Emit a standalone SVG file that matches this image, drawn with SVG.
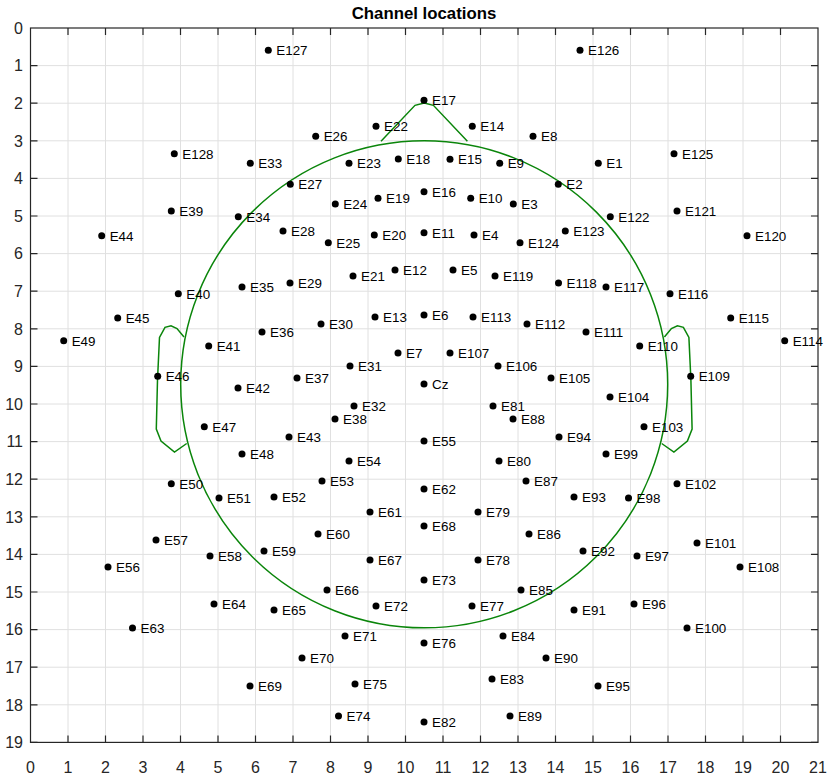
<svg xmlns="http://www.w3.org/2000/svg" width="829" height="777" viewBox="0 0 829 777">
<style>
.grid{stroke:#e0e0e0;stroke-width:1;fill:none}
.axis{stroke:#262626;stroke-width:1.2;fill:none}
.tick{stroke:#262626;stroke-width:1.2}
.tl{font-family:"Liberation Sans",Arial,sans-serif;font-size:16px;fill:#262626}
.title{font-family:"Liberation Sans",Arial,sans-serif;font-size:16.8px;font-weight:bold;fill:#000;text-anchor:middle}
.head{stroke:#0a850a;stroke-width:1.5;fill:none}
.dot{fill:#000}
.lbl{font-family:"Liberation Sans",Arial,sans-serif;font-size:13.4px;fill:#000}
</style>
<rect width="829" height="777" fill="#fff"/>
<text class="title" x="424" y="19">Channel locations</text>
<g id="grid">
<path class="grid" d="M68,28V742.4M105.5,28V742.4M143,28V742.4M180.5,28V742.4M218,28V742.4M255.5,28V742.4M293,28V742.4M330.5,28V742.4M368,28V742.4M405.5,28V742.4M443,28V742.4M480.5,28V742.4M518,28V742.4M555.5,28V742.4M593,28V742.4M630.5,28V742.4M668,28V742.4M705.5,28V742.4M743,28V742.4M780.5,28V742.4"/>
<path class="grid" d="M30.5,65.6H818M30.5,103.2H818M30.5,140.8H818M30.5,178.4H818M30.5,216H818M30.5,253.6H818M30.5,291.2H818M30.5,328.8H818M30.5,366.4H818M30.5,404H818M30.5,441.6H818M30.5,479.2H818M30.5,516.8H818M30.5,554.4H818M30.5,592H818M30.5,629.6H818M30.5,667.2H818M30.5,704.8H818"/>
</g>
<g id="axes">
<rect class="axis" x="30.5" y="28" width="787.5" height="714.4"/>
<path class="tick" d="M68,28v7M105.5,28v7M143,28v7M180.5,28v7M218,28v7M255.5,28v7M293,28v7M330.5,28v7M368,28v7M405.5,28v7M443,28v7M480.5,28v7M518,28v7M555.5,28v7M593,28v7M630.5,28v7M668,28v7M705.5,28v7M743,28v7M780.5,28v7"/>
<path class="tick" d="M68,742.4v-7M105.5,742.4v-7M143,742.4v-7M180.5,742.4v-7M218,742.4v-7M255.5,742.4v-7M293,742.4v-7M330.5,742.4v-7M368,742.4v-7M405.5,742.4v-7M443,742.4v-7M480.5,742.4v-7M518,742.4v-7M555.5,742.4v-7M593,742.4v-7M630.5,742.4v-7M668,742.4v-7M705.5,742.4v-7M743,742.4v-7M780.5,742.4v-7"/>
<path class="tick" d="M30.5,65.6h7M30.5,103.2h7M30.5,140.8h7M30.5,178.4h7M30.5,216h7M30.5,253.6h7M30.5,291.2h7M30.5,328.8h7M30.5,366.4h7M30.5,404h7M30.5,441.6h7M30.5,479.2h7M30.5,516.8h7M30.5,554.4h7M30.5,592h7M30.5,629.6h7M30.5,667.2h7M30.5,704.8h7M30.5,742.4h7"/>
<path class="tick" d="M818,65.6h-7M818,103.2h-7M818,140.8h-7M818,178.4h-7M818,216h-7M818,253.6h-7M818,291.2h-7M818,328.8h-7M818,366.4h-7M818,404h-7M818,441.6h-7M818,479.2h-7M818,516.8h-7M818,554.4h-7M818,592h-7M818,629.6h-7M818,667.2h-7M818,704.8h-7M818,742.4h-7"/>
<g class="tl" text-anchor="middle">
<text x="30.5" y="773">0</text><text x="68" y="773">1</text><text x="105.5" y="773">2</text><text x="143" y="773">3</text><text x="180.5" y="773">4</text><text x="218" y="773">5</text><text x="255.5" y="773">6</text><text x="293" y="773">7</text><text x="330.5" y="773">8</text><text x="368" y="773">9</text><text x="405.5" y="773">10</text><text x="443" y="773">11</text><text x="480.5" y="773">12</text><text x="518" y="773">13</text><text x="555.5" y="773">14</text><text x="593" y="773">15</text><text x="630.5" y="773">16</text><text x="668" y="773">17</text><text x="705.5" y="773">18</text><text x="743" y="773">19</text><text x="780.5" y="773">20</text><text x="818" y="773">21</text>
</g>
<g class="tl" text-anchor="end">
<text x="23" y="33.8">0</text><text x="23" y="71.4">1</text><text x="23" y="109">2</text><text x="23" y="146.6">3</text><text x="23" y="184.2">4</text><text x="23" y="221.8">5</text><text x="23" y="259.4">6</text><text x="23" y="297">7</text><text x="23" y="334.6">8</text><text x="23" y="372.2">9</text><text x="23" y="409.8">10</text><text x="23" y="447.4">11</text><text x="23" y="485">12</text><text x="23" y="522.6">13</text><text x="23" y="560.2">14</text><text x="23" y="597.8">15</text><text x="23" y="635.4">16</text><text x="23" y="673">17</text><text x="23" y="710.6">18</text><text x="23" y="748.2">19</text>
</g>
</g>
<g id="head">
<circle class="head" cx="424.2" cy="384.3" r="243.5"/>
<polyline class="head" points="381,141.3 415,105.3 424.2,103 433.4,105.3 467.4,141.3"/>
<polyline class="head" points="184,337 177,328.5 171,325.8 165,327.3 159.5,337.5 157.5,380 156.3,429 161,441 174.5,452 186.7,443.5"/>
<polyline class="head" points="664.4,337 671.4,328.5 677.4,325.8 683.4,327.3 688.9,337.5 690.9,380 692.1,429 687.4,441 673.9,452 661.7,443.5"/>
</g>
<g id="electrodes">
<g id="E1"><circle class="dot" cx="598.3" cy="163.3" r="3.5"/><text class="lbl" x="606.3" y="168.3">E1</text></g>
<g id="E2"><circle class="dot" cx="558.3" cy="184.3" r="3.5"/><text class="lbl" x="566.3" y="189.3">E2</text></g>
<g id="E3"><circle class="dot" cx="513.3" cy="204" r="3.5"/><text class="lbl" x="521.3" y="209">E3</text></g>
<g id="E4"><circle class="dot" cx="474" cy="235" r="3.5"/><text class="lbl" x="482" y="240">E4</text></g>
<g id="E5"><circle class="dot" cx="453" cy="270" r="3.5"/><text class="lbl" x="461" y="275">E5</text></g>
<g id="E6"><circle class="dot" cx="424" cy="315" r="3.5"/><text class="lbl" x="432" y="320">E6</text></g>
<g id="E7"><circle class="dot" cx="398" cy="353" r="3.5"/><text class="lbl" x="406" y="358">E7</text></g>
<g id="E8"><circle class="dot" cx="533" cy="136.3" r="3.5"/><text class="lbl" x="541" y="141.3">E8</text></g>
<g id="E9"><circle class="dot" cx="499.7" cy="163.3" r="3.5"/><text class="lbl" x="507.7" y="168.3">E9</text></g>
<g id="E10"><circle class="dot" cx="470.7" cy="198.3" r="3.5"/><text class="lbl" x="478.7" y="203.3">E10</text></g>
<g id="E11"><circle class="dot" cx="424" cy="232.7" r="3.5"/><text class="lbl" x="432" y="237.7">E11</text></g>
<g id="E12"><circle class="dot" cx="395" cy="270" r="3.5"/><text class="lbl" x="403" y="275">E12</text></g>
<g id="E13"><circle class="dot" cx="375" cy="317" r="3.5"/><text class="lbl" x="383" y="322">E13</text></g>
<g id="E14"><circle class="dot" cx="472.3" cy="126.3" r="3.5"/><text class="lbl" x="480.3" y="131.3">E14</text></g>
<g id="E15"><circle class="dot" cx="450" cy="159.3" r="3.5"/><text class="lbl" x="458" y="164.3">E15</text></g>
<g id="E16"><circle class="dot" cx="424" cy="191.7" r="3.5"/><text class="lbl" x="432" y="196.7">E16</text></g>
<g id="E17"><circle class="dot" cx="424" cy="100.3" r="3.5"/><text class="lbl" x="432" y="105.3">E17</text></g>
<g id="E18"><circle class="dot" cx="398.3" cy="159" r="3.5"/><text class="lbl" x="406.3" y="164">E18</text></g>
<g id="E19"><circle class="dot" cx="378" cy="198.3" r="3.5"/><text class="lbl" x="386" y="203.3">E19</text></g>
<g id="E20"><circle class="dot" cx="374.3" cy="235" r="3.5"/><text class="lbl" x="382.3" y="240">E20</text></g>
<g id="E21"><circle class="dot" cx="353" cy="276" r="3.5"/><text class="lbl" x="361" y="281">E21</text></g>
<g id="E22"><circle class="dot" cx="376" cy="126.3" r="3.5"/><text class="lbl" x="384" y="131.3">E22</text></g>
<g id="E23"><circle class="dot" cx="349" cy="163.3" r="3.5"/><text class="lbl" x="357" y="168.3">E23</text></g>
<g id="E24"><circle class="dot" cx="335.3" cy="204" r="3.5"/><text class="lbl" x="343.3" y="209">E24</text></g>
<g id="E25"><circle class="dot" cx="328.3" cy="242.7" r="3.5"/><text class="lbl" x="336.3" y="247.7">E25</text></g>
<g id="E26"><circle class="dot" cx="315.7" cy="136.3" r="3.5"/><text class="lbl" x="323.7" y="141.3">E26</text></g>
<g id="E27"><circle class="dot" cx="290.3" cy="184.3" r="3.5"/><text class="lbl" x="298.3" y="189.3">E27</text></g>
<g id="E28"><circle class="dot" cx="283" cy="231" r="3.5"/><text class="lbl" x="291" y="236">E28</text></g>
<g id="E29"><circle class="dot" cx="290" cy="283" r="3.5"/><text class="lbl" x="298" y="288">E29</text></g>
<g id="E30"><circle class="dot" cx="321" cy="324" r="3.5"/><text class="lbl" x="329" y="329">E30</text></g>
<g id="E31"><circle class="dot" cx="350" cy="366" r="3.5"/><text class="lbl" x="358" y="371">E31</text></g>
<g id="E32"><circle class="dot" cx="354" cy="406" r="3.5"/><text class="lbl" x="362" y="411">E32</text></g>
<g id="E33"><circle class="dot" cx="250.3" cy="163.3" r="3.5"/><text class="lbl" x="258.3" y="168.3">E33</text></g>
<g id="E34"><circle class="dot" cx="238.3" cy="216.7" r="3.5"/><text class="lbl" x="246.3" y="221.7">E34</text></g>
<g id="E35"><circle class="dot" cx="242" cy="287" r="3.5"/><text class="lbl" x="250" y="292">E35</text></g>
<g id="E36"><circle class="dot" cx="262" cy="332" r="3.5"/><text class="lbl" x="270" y="337">E36</text></g>
<g id="E37"><circle class="dot" cx="297" cy="378" r="3.5"/><text class="lbl" x="305" y="383">E37</text></g>
<g id="E38"><circle class="dot" cx="335" cy="419" r="3.5"/><text class="lbl" x="343" y="424">E38</text></g>
<g id="E39"><circle class="dot" cx="171.3" cy="211" r="3.5"/><text class="lbl" x="179.3" y="216">E39</text></g>
<g id="E40"><circle class="dot" cx="178.3" cy="293.7" r="3.5"/><text class="lbl" x="186.3" y="298.7">E40</text></g>
<g id="E41"><circle class="dot" cx="208.7" cy="346" r="3.5"/><text class="lbl" x="216.7" y="351">E41</text></g>
<g id="E42"><circle class="dot" cx="238" cy="388" r="3.5"/><text class="lbl" x="246" y="393">E42</text></g>
<g id="E43"><circle class="dot" cx="289" cy="437" r="3.5"/><text class="lbl" x="297" y="442">E43</text></g>
<g id="E44"><circle class="dot" cx="101.7" cy="235.7" r="3.5"/><text class="lbl" x="109.7" y="240.7">E44</text></g>
<g id="E45"><circle class="dot" cx="117.7" cy="318" r="3.5"/><text class="lbl" x="125.7" y="323">E45</text></g>
<g id="E46"><circle class="dot" cx="157.7" cy="376.3" r="3.5"/><text class="lbl" x="165.7" y="381.3">E46</text></g>
<g id="E47"><circle class="dot" cx="204.3" cy="426.7" r="3.5"/><text class="lbl" x="212.3" y="431.7">E47</text></g>
<g id="E48"><circle class="dot" cx="242" cy="454" r="3.5"/><text class="lbl" x="250" y="459">E48</text></g>
<g id="E49"><circle class="dot" cx="63.7" cy="340.7" r="3.5"/><text class="lbl" x="71.7" y="345.7">E49</text></g>
<g id="E50"><circle class="dot" cx="171.3" cy="483.7" r="3.5"/><text class="lbl" x="179.3" y="488.7">E50</text></g>
<g id="E51"><circle class="dot" cx="219" cy="498" r="3.5"/><text class="lbl" x="227" y="503">E51</text></g>
<g id="E52"><circle class="dot" cx="274" cy="497" r="3.5"/><text class="lbl" x="282" y="502">E52</text></g>
<g id="E53"><circle class="dot" cx="322" cy="481" r="3.5"/><text class="lbl" x="330" y="486">E53</text></g>
<g id="E54"><circle class="dot" cx="349" cy="461" r="3.5"/><text class="lbl" x="357" y="466">E54</text></g>
<g id="E55"><circle class="dot" cx="424" cy="441" r="3.5"/><text class="lbl" x="432" y="446">E55</text></g>
<g id="E56"><circle class="dot" cx="108" cy="567" r="3.5"/><text class="lbl" x="116" y="572">E56</text></g>
<g id="E57"><circle class="dot" cx="156" cy="540" r="3.5"/><text class="lbl" x="164" y="545">E57</text></g>
<g id="E58"><circle class="dot" cx="210" cy="556" r="3.5"/><text class="lbl" x="218" y="561">E58</text></g>
<g id="E59"><circle class="dot" cx="264" cy="551" r="3.5"/><text class="lbl" x="272" y="556">E59</text></g>
<g id="E60"><circle class="dot" cx="318" cy="534" r="3.5"/><text class="lbl" x="326" y="539">E60</text></g>
<g id="E61"><circle class="dot" cx="370" cy="512" r="3.5"/><text class="lbl" x="378" y="517">E61</text></g>
<g id="E62"><circle class="dot" cx="424" cy="489" r="3.5"/><text class="lbl" x="432" y="494">E62</text></g>
<g id="E63"><circle class="dot" cx="132.5" cy="628" r="3.5"/><text class="lbl" x="140.5" y="633">E63</text></g>
<g id="E64"><circle class="dot" cx="214" cy="604" r="3.5"/><text class="lbl" x="222" y="609">E64</text></g>
<g id="E65"><circle class="dot" cx="274" cy="610" r="3.5"/><text class="lbl" x="282" y="615">E65</text></g>
<g id="E66"><circle class="dot" cx="327" cy="590" r="3.5"/><text class="lbl" x="335" y="595">E66</text></g>
<g id="E67"><circle class="dot" cx="370" cy="560" r="3.5"/><text class="lbl" x="378" y="565">E67</text></g>
<g id="E68"><circle class="dot" cx="424" cy="526" r="3.5"/><text class="lbl" x="432" y="531">E68</text></g>
<g id="E69"><circle class="dot" cx="250" cy="686" r="3.5"/><text class="lbl" x="258" y="691">E69</text></g>
<g id="E70"><circle class="dot" cx="302" cy="658" r="3.5"/><text class="lbl" x="310" y="663">E70</text></g>
<g id="E71"><circle class="dot" cx="345" cy="636" r="3.5"/><text class="lbl" x="353" y="641">E71</text></g>
<g id="E72"><circle class="dot" cx="376" cy="606" r="3.5"/><text class="lbl" x="384" y="611">E72</text></g>
<g id="E73"><circle class="dot" cx="424" cy="580" r="3.5"/><text class="lbl" x="432" y="585">E73</text></g>
<g id="E74"><circle class="dot" cx="338.5" cy="716" r="3.5"/><text class="lbl" x="346.5" y="721">E74</text></g>
<g id="E75"><circle class="dot" cx="355" cy="684" r="3.5"/><text class="lbl" x="363" y="689">E75</text></g>
<g id="E76"><circle class="dot" cx="424" cy="643" r="3.5"/><text class="lbl" x="432" y="648">E76</text></g>
<g id="E77"><circle class="dot" cx="472" cy="606" r="3.5"/><text class="lbl" x="480" y="611">E77</text></g>
<g id="E78"><circle class="dot" cx="478" cy="560" r="3.5"/><text class="lbl" x="486" y="565">E78</text></g>
<g id="E79"><circle class="dot" cx="478" cy="512" r="3.5"/><text class="lbl" x="486" y="517">E79</text></g>
<g id="E80"><circle class="dot" cx="499" cy="461" r="3.5"/><text class="lbl" x="507" y="466">E80</text></g>
<g id="E81"><circle class="dot" cx="493" cy="406" r="3.5"/><text class="lbl" x="501" y="411">E81</text></g>
<g id="E82"><circle class="dot" cx="424" cy="722" r="3.5"/><text class="lbl" x="432" y="727">E82</text></g>
<g id="E83"><circle class="dot" cx="492" cy="679" r="3.5"/><text class="lbl" x="500" y="684">E83</text></g>
<g id="E84"><circle class="dot" cx="503" cy="636" r="3.5"/><text class="lbl" x="511" y="641">E84</text></g>
<g id="E85"><circle class="dot" cx="521" cy="590" r="3.5"/><text class="lbl" x="529" y="595">E85</text></g>
<g id="E86"><circle class="dot" cx="529" cy="534" r="3.5"/><text class="lbl" x="537" y="539">E86</text></g>
<g id="E87"><circle class="dot" cx="526" cy="481" r="3.5"/><text class="lbl" x="534" y="486">E87</text></g>
<g id="E88"><circle class="dot" cx="513" cy="419" r="3.5"/><text class="lbl" x="521" y="424">E88</text></g>
<g id="E89"><circle class="dot" cx="510" cy="716" r="3.5"/><text class="lbl" x="518" y="721">E89</text></g>
<g id="E90"><circle class="dot" cx="546" cy="658" r="3.5"/><text class="lbl" x="554" y="663">E90</text></g>
<g id="E91"><circle class="dot" cx="574" cy="610" r="3.5"/><text class="lbl" x="582" y="615">E91</text></g>
<g id="E92"><circle class="dot" cx="583" cy="551" r="3.5"/><text class="lbl" x="591" y="556">E92</text></g>
<g id="E93"><circle class="dot" cx="574" cy="497" r="3.5"/><text class="lbl" x="582" y="502">E93</text></g>
<g id="E94"><circle class="dot" cx="559" cy="437" r="3.5"/><text class="lbl" x="567" y="442">E94</text></g>
<g id="E95"><circle class="dot" cx="598" cy="686" r="3.5"/><text class="lbl" x="606" y="691">E95</text></g>
<g id="E96"><circle class="dot" cx="634" cy="604" r="3.5"/><text class="lbl" x="642" y="609">E96</text></g>
<g id="E97"><circle class="dot" cx="637" cy="556" r="3.5"/><text class="lbl" x="645" y="561">E97</text></g>
<g id="E98"><circle class="dot" cx="628.5" cy="498" r="3.5"/><text class="lbl" x="636.5" y="503">E98</text></g>
<g id="E99"><circle class="dot" cx="606" cy="454" r="3.5"/><text class="lbl" x="614" y="459">E99</text></g>
<g id="E100"><circle class="dot" cx="687" cy="628" r="3.5"/><text class="lbl" x="695" y="633">E100</text></g>
<g id="E101"><circle class="dot" cx="697" cy="543" r="3.5"/><text class="lbl" x="705" y="548">E101</text></g>
<g id="E102"><circle class="dot" cx="677" cy="483.7" r="3.5"/><text class="lbl" x="685" y="488.7">E102</text></g>
<g id="E103"><circle class="dot" cx="644" cy="426.7" r="3.5"/><text class="lbl" x="652" y="431.7">E103</text></g>
<g id="E104"><circle class="dot" cx="610" cy="397" r="3.5"/><text class="lbl" x="618" y="402">E104</text></g>
<g id="E105"><circle class="dot" cx="551" cy="378" r="3.5"/><text class="lbl" x="559" y="383">E105</text></g>
<g id="E106"><circle class="dot" cx="498" cy="366" r="3.5"/><text class="lbl" x="506" y="371">E106</text></g>
<g id="E107"><circle class="dot" cx="450" cy="353" r="3.5"/><text class="lbl" x="458" y="358">E107</text></g>
<g id="E108"><circle class="dot" cx="740" cy="567" r="3.5"/><text class="lbl" x="748" y="572">E108</text></g>
<g id="E109"><circle class="dot" cx="690.7" cy="376.3" r="3.5"/><text class="lbl" x="698.7" y="381.3">E109</text></g>
<g id="E110"><circle class="dot" cx="639.7" cy="346" r="3.5"/><text class="lbl" x="647.7" y="351">E110</text></g>
<g id="E111"><circle class="dot" cx="586" cy="332" r="3.5"/><text class="lbl" x="594" y="337">E111</text></g>
<g id="E112"><circle class="dot" cx="527" cy="324" r="3.5"/><text class="lbl" x="535" y="329">E112</text></g>
<g id="E113"><circle class="dot" cx="473" cy="317" r="3.5"/><text class="lbl" x="481" y="322">E113</text></g>
<g id="E114"><circle class="dot" cx="784.7" cy="340.7" r="3.5"/><text class="lbl" x="792.7" y="345.7">E114</text></g>
<g id="E115"><circle class="dot" cx="730.7" cy="318" r="3.5"/><text class="lbl" x="738.7" y="323">E115</text></g>
<g id="E116"><circle class="dot" cx="670" cy="293.7" r="3.5"/><text class="lbl" x="678" y="298.7">E116</text></g>
<g id="E117"><circle class="dot" cx="606" cy="287" r="3.5"/><text class="lbl" x="614" y="292">E117</text></g>
<g id="E118"><circle class="dot" cx="558.5" cy="283" r="3.5"/><text class="lbl" x="566.5" y="288">E118</text></g>
<g id="E119"><circle class="dot" cx="495" cy="276" r="3.5"/><text class="lbl" x="503" y="281">E119</text></g>
<g id="E120"><circle class="dot" cx="747" cy="235.7" r="3.5"/><text class="lbl" x="755" y="240.7">E120</text></g>
<g id="E121"><circle class="dot" cx="677" cy="211" r="3.5"/><text class="lbl" x="685" y="216">E121</text></g>
<g id="E122"><circle class="dot" cx="610.3" cy="216.7" r="3.5"/><text class="lbl" x="618.3" y="221.7">E122</text></g>
<g id="E123"><circle class="dot" cx="565.3" cy="231" r="3.5"/><text class="lbl" x="573.3" y="236">E123</text></g>
<g id="E124"><circle class="dot" cx="520" cy="242.7" r="3.5"/><text class="lbl" x="528" y="247.7">E124</text></g>
<g id="E125"><circle class="dot" cx="674" cy="153.7" r="3.5"/><text class="lbl" x="682" y="158.7">E125</text></g>
<g id="E126"><circle class="dot" cx="580" cy="50.3" r="3.5"/><text class="lbl" x="588" y="55.3">E126</text></g>
<g id="E127"><circle class="dot" cx="268.3" cy="50.3" r="3.5"/><text class="lbl" x="276.3" y="55.3">E127</text></g>
<g id="E128"><circle class="dot" cx="174.3" cy="153.7" r="3.5"/><text class="lbl" x="182.3" y="158.7">E128</text></g>
<g id="Cz"><circle class="dot" cx="424" cy="384" r="3.5"/><text class="lbl" x="432" y="389">Cz</text></g>
</g>
</svg>
